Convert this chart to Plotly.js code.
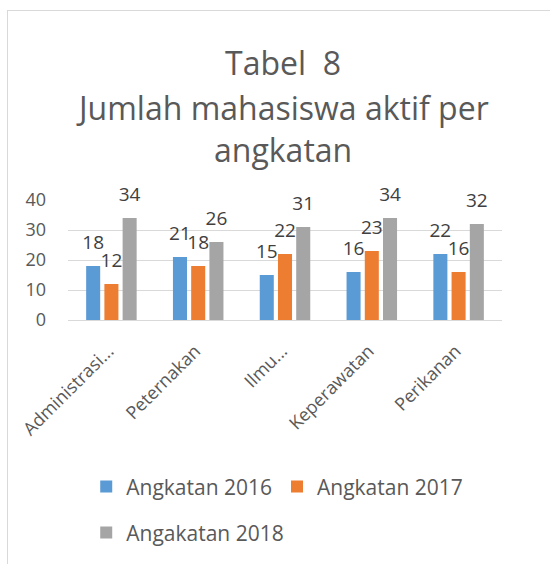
<!DOCTYPE html>
<html><head><meta charset="utf-8">
<script src="https://cdn.plot.ly/plotly-3.0.1.min.js"></script>
<style>
html,body{margin:0;padding:0;background:#fff;}
#frame{position:absolute;left:7px;top:10px;width:560px;height:570px;border-left:1px solid #d9d9d9;border-top:1px solid #d9d9d9;}
#chart{position:absolute;left:0;top:0;width:550px;height:564px;}
</style></head>
<body>
<div id="frame"></div>
<div id="chart"></div>
<script>
const categories = ["Administrasi...", "Peternakan", "Ilmu...", "Keperawatan", "Perikanan"];
const seriesNames = ["Angkatan 2016", "Angkatan 2017", "Angakatan 2018"];
const angkatan2016 = [18, 21, 15, 16, 22];
const angkatan2017 = [12, 18, 22, 23, 16];
const angkatan2018 = [34, 26, 31, 34, 32];
const yTicks = [0, 10, 20, 30, 40];
const titleLines = ["Tabel\u00a0 8", "Jumlah mahasiswa aktif per", "angkatan"];

const colors = ["#5B9BD5", "#ED7D31", "#A5A5A5"];
const txt = "#595959";
const font = "Open Sans, Noto Sans, sans-serif";
const values = [angkatan2016, angkatan2017, angkatan2018];

const barTraces = values.map((v, i) => ({
  type: "bar",
  name: seriesNames[i],
  x: categories,
  y: v,
  offsetgroup: "g" + i,
  marker: {color: colors[i]},
  legend: i < 2 ? "legend" : "legend2",
  hoverinfo: "x+y+name"
}));

const labelTraces = values.map((v, i) => ({
  type: "scatter",
  mode: "markers+text",
  x: categories,
  y: v,
  offsetgroup: "g" + i,
  text: v.map(String),
  textposition: "top center",
  textfont: {family: font, size: 19, color: "#404040"},
  marker: {size: 18, opacity: 0},
  cliponaxis: false,
  showlegend: false,
  hoverinfo: "skip"
}));

const titleY = [2.150, 1.775, 1.420];
const annotations = titleLines.map((t, i) => ({
  text: t, xref: "paper", yref: "paper", x: 0.495, y: titleY[i],
  xanchor: "center", yanchor: "middle", showarrow: false,
  font: {family: font, size: 32, color: txt}
}));

const layout = {
  width: 550, height: 564,
  margin: {l: 68, r: 48, t: 200, b: 241},
  paper_bgcolor: "rgba(0,0,0,0)",
  plot_bgcolor: "rgba(0,0,0,0)",
  barmode: "group",
  bargap: 0.37,
  bargroupgap: 0.23,
  scattermode: "group",
  scattergap: 0.37,
  annotations: annotations,
  xaxis: {
    type: "category",
    tickangle: -45,
    tickfont: {family: font, size: 18, color: txt},
    showline: false, showgrid: false, ticks: "",
    ticklabelstandoff: 16,
    ticklabelshift: -3,
    fixedrange: true
  },
  yaxis: {
    range: [0, 40],
    tickvals: yTicks,
    tickfont: {family: font, size: 18, color: txt},
    gridcolor: "#D9D9D9", gridwidth: 1,
    zeroline: true, zerolinecolor: "#D9D9D9", zerolinewidth: 1,
    showline: false, ticks: "",
    ticklabelstandoff: 21,
    fixedrange: true
  },
  legend: {
    orientation: "h", x: 0.042, xanchor: "left", y: -1.39, yanchor: "middle",
    font: {family: font, size: 21, color: txt}, bgcolor: "rgba(0,0,0,0)"
  },
  legend2: {
    orientation: "h", x: 0.042, xanchor: "left", y: -1.773, yanchor: "middle",
    font: {family: font, size: 21, color: txt}, bgcolor: "rgba(0,0,0,0)"
  },
  showlegend: true
};

Plotly.newPlot("chart", barTraces.concat(labelTraces), layout, {displayModeBar: false, staticPlot: true});
</script>
</body></html>
